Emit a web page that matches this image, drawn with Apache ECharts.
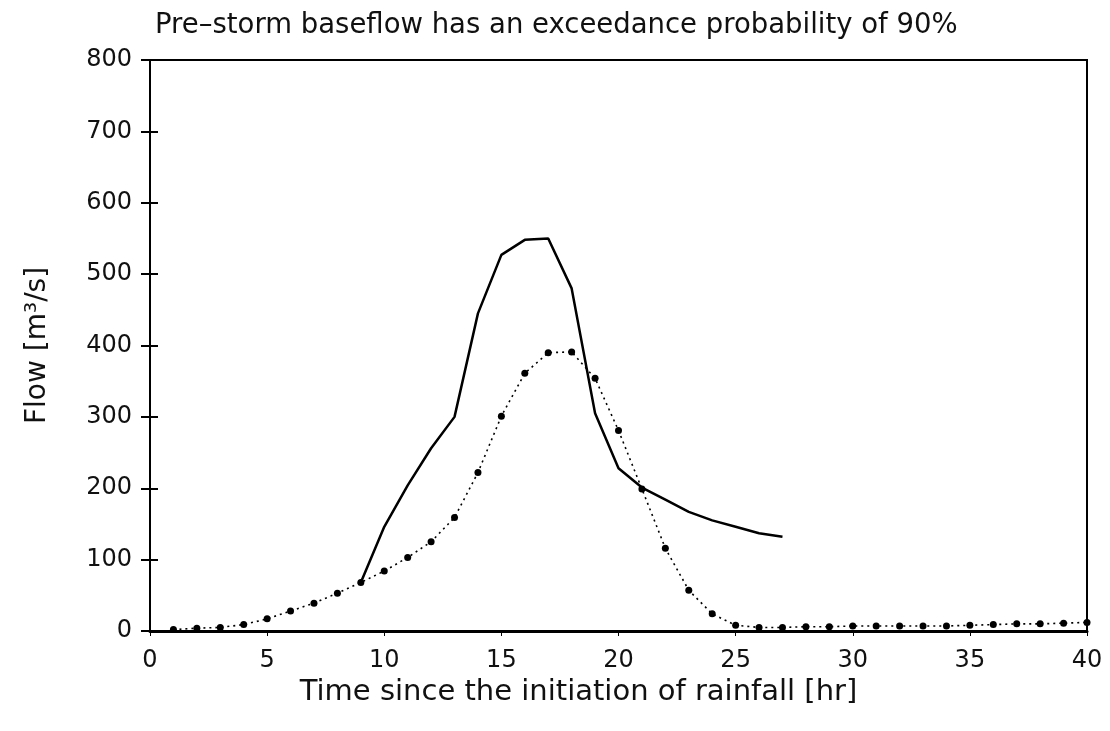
<!DOCTYPE html>
<html>
<head>
<meta charset="utf-8">
<script src="https://cdn.jsdelivr.net/npm/echarts@6/dist/echarts.min.js"></script>
<style>
html,body{margin:0;padding:0;background:#fff;}
#c{width:1110px;height:731px;}
</style>
</head>
<body>
<div id="c"></div>
<script>
// Time (hr) and flow (m3/s)
const solidTimes = [9,10,11,12,13,14,15,16,17,18,19,20,21,22,23,24,25,26,27];
const solidFlow  = [68,146,204,256,300,445,527,548,550,480,305,228,201,184,167,155,146,137,132];
const dottedTimes = [1,2,3,4,5,6,7,8,9,10,11,12,13,14,15,16,17,18,19,20,21,22,23,24,25,26,27,28,29,30,31,32,33,34,35,36,37,38,39,40];
const dottedFlow  = [2,4,5,9,17,28,39,53,68,84,103,125,159,222,301,361,390,391,354,281,199,116,57,24,8,5,5,6,6,7,7,7,7,7,8,9,10,10,11,12];
const xTicks = [0,5,10,15,20,25,30,35,40];
const yTicks = [0,100,200,300,400,500,600,700,800];

const titleText = 'Pre\u2013storm baseflow has an exceedance probability of 90%';
const xName = 'Time since the initiation of rainfall [hr]';
const yName = 'Flow [m\u00B3/s]';

const FONT = '"DejaVu Sans", sans-serif';
const chart = echarts.init(document.getElementById('c'), null, {renderer:'canvas'});
const pair = (xs, ys) => xs.map((x,i)=>[x, ys[i]]);

chart.setOption({
  animation:false,
  backgroundColor:'#fff',
  title:{
    text:titleText, left:150, top:7,
    textStyle:{fontFamily:FONT, fontSize:27.5, fontWeight:'normal', color:'#111'}
  },
  grid:{left:150, right:23, top:60, bottom:100, show:true, borderColor:'#000', borderWidth:2, backgroundColor:'transparent'},
  xAxis:{
    type:'value', min:xTicks[0], max:xTicks[xTicks.length-1], interval:5,
    name:xName, nameLocation:'middle', nameGap:46,
    nameTextStyle:{fontFamily:FONT, fontSize:29, color:'#111', padding:[0,80,0,0]},
    axisLine:{show:true, lineStyle:{color:'#000', width:3}},
    axisTick:{show:true, length:5, lineStyle:{color:'#000', width:1}},
    axisLabel:{fontFamily:FONT, fontSize:24, color:'#111', margin:18},
    splitLine:{show:false}
  },
  yAxis:[{
    type:'value', min:yTicks[0], max:yTicks[yTicks.length-1], interval:100,
    name:yName, nameLocation:'middle', nameGap:98, nameRotate:90,
    nameTextStyle:{fontFamily:FONT, fontSize:28, color:'#111'},
    axisLine:{show:true, lineStyle:{color:'#000', width:2}},
    axisTick:{show:true, length:9, lineStyle:{color:'#000', width:2}},
    axisLabel:{fontFamily:FONT, fontSize:24, color:'#111', margin:18},
    splitLine:{show:false}
  },{
    type:'value', min:yTicks[0], max:yTicks[yTicks.length-1], interval:100, position:'left',
    axisLine:{show:false},
    axisTick:{show:true, inside:true, length:8, lineStyle:{color:'#000', width:2}},
    axisLabel:{show:false},
    splitLine:{show:false}
  }],
  series:[{
    type:'line', data:pair(solidTimes, solidFlow), showSymbol:false, symbol:'none',
    lineStyle:{color:'#000', width:2.5}, z:3
  },{
    type:'line', data:pair(dottedTimes, dottedFlow), symbol:'circle', symbolSize:7,
    itemStyle:{color:'#000'},
    lineStyle:{color:'#000', width:1.6, type:[2,4]}, z:4
  }]
});
</script>
</body>
</html>
